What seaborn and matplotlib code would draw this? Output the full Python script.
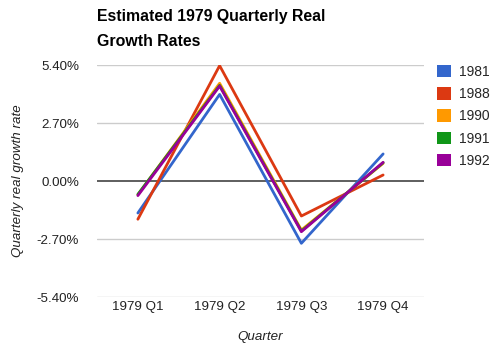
import matplotlib
matplotlib.use("Agg")
import matplotlib.pyplot as plt
import seaborn as sns
import pandas as pd
from matplotlib.patches import Patch
from matplotlib.ticker import FuncFormatter

quarters = ["1979 Q1", "1979 Q2", "1979 Q3", "1979 Q4"]
s1981 = [-1.49, 4.03, -2.90, 1.26]
s1988 = [-1.78, 5.37, -1.63, 0.28]
s1990 = [-0.64, 4.55, -2.28, 0.82]
s1991 = [-0.62, 4.45, -2.33, 0.85]
s1992 = [-0.68, 4.42, -2.36, 0.87]
series_names = ["1981", "1988", "1990", "1991", "1992"]
colors = ["#3366cc", "#dc3912", "#ff9900", "#109618", "#990099"]
yticks = [-5.4, -2.7, 0.0, 2.7, 5.4]

rows = []
for name, vals in zip(series_names, [s1981, s1988, s1990, s1991, s1992]):
    for i, (q, v) in enumerate(zip(quarters, vals)):
        rows.append({"Quarter": q, "idx": i, "value": v, "series": name})
df = pd.DataFrame(rows)

sns.set_theme(style="white")
plt.rcParams["font.family"] = ["Liberation Sans", "DejaVu Sans"]

fig = plt.figure(figsize=(4.95, 3.54), dpi=100)
ax = fig.add_axes([97/495, (354-297)/354, 327/495, 232/354])

for yt in yticks:
    if yt == 0:
        ax.axhline(yt, color="#333333", lw=1.1, zorder=1)
    else:
        ax.axhline(yt, color="#cccccc", lw=1.0, zorder=0)

sns.lineplot(data=df, x="idx", y="value", hue="series", palette=colors,
             hue_order=series_names, lw=2.0, ax=ax, legend=False, zorder=3)

ax.set_xlim(-0.5, 3.5)
ax.set_ylim(-5.4, 5.4)
ax.set_xticks(range(len(quarters)))
ax.set_xticklabels(quarters)
ax.set_yticks(yticks)
ax.yaxis.set_major_formatter(FuncFormatter(lambda v, p: f"{v:.2f}%"))
ax.tick_params(axis="both", length=0, labelsize=9.6, labelcolor="#222222")
ax.tick_params(axis="x", pad=3)
ax.tick_params(axis="y", pad=13)
for s in ax.spines.values():
    s.set_visible(False)

ax.set_xlabel("Quarter", fontstyle="italic", fontsize=9.6, color="#222222")
ax.xaxis.set_label_coords(0.5, -(337 - 297) / 232)
ax.set_ylabel("Quarterly real growth rate", fontstyle="italic", fontsize=9.6, color="#222222")
ax.yaxis.set_label_coords(-(97 - 18) / 327, 0.5)
ax.yaxis.label.set_va("center")
ax.xaxis.label.set_va("center")

fig.text(97/495, 1 - 16/354, "Estimated 1979 Quarterly Real", fontsize=11.4,
         fontweight="bold", va="center", ha="left", color="#000000")
fig.text(97/495, 1 - 42/354, "Growth Rates", fontsize=11.4,
         fontweight="bold", va="center", ha="left", color="#000000")

handles = [Patch(facecolor=c, edgecolor="none") for c in colors]
fig.legend(handles, series_names, loc="upper left", bbox_to_anchor=(437/495, 1 - 65/354),
           frameon=False, fontsize=10, handlelength=1.0, handleheight=1.0,
           labelspacing=0.59, handletextpad=0.55, borderaxespad=0, borderpad=0)

fig.savefig("out.png", dpi=100)
